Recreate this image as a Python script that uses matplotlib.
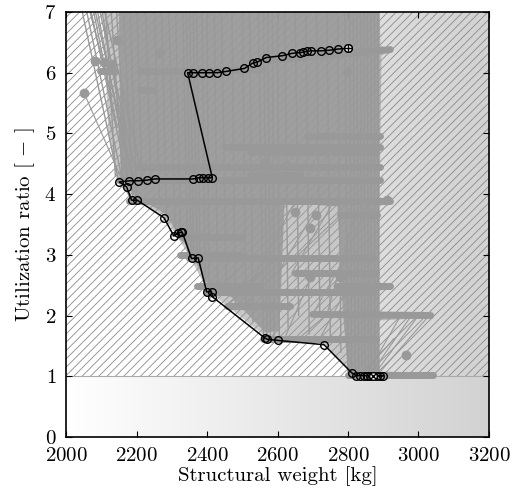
import numpy as np
import matplotlib
matplotlib.use("Agg")
import matplotlib.pyplot as plt
from matplotlib.colors import LinearSegmentedColormap

plt.rcParams['font.family'] = 'cmr10'
plt.rcParams['mathtext.fontset'] = 'cm'
plt.rcParams['axes.formatter.use_mathtext'] = True
plt.rcParams['hatch.linewidth'] = 0.6

# black path (best design history), from start to end
path_x = [2799, 2772, 2747, 2723, 2695, 2683, 2673, 2664, 2642, 2614, 2568, 2541, 2530,
          2506, 2453, 2429, 2406, 2385, 2361, 2345,
          2415, 2404, 2390, 2378, 2361, 2252, 2229, 2203, 2180, 2151,
          2172, 2186, 2202, 2278, 2306, 2319, 2325, 2330, 2356, 2375,
          2399, 2413, 2415, 2564, 2571, 2602, 2732,
          2810, 2823, 2834, 2846, 2853, 2862, 2900, 2891, 2881, 2870]
path_y = [6.40, 6.39, 6.37, 6.36, 6.36, 6.35, 6.34, 6.33, 6.32, 6.28, 6.25, 6.17, 6.16,
          6.07, 6.02, 6.00, 6.00, 6.00, 6.00, 6.00,
          4.27, 4.27, 4.27, 4.27, 4.25, 4.25, 4.23, 4.22, 4.22, 4.20,
          4.12, 3.90, 3.90, 3.61, 3.31, 3.36, 3.37, 3.37, 2.94, 2.95,
          2.39, 2.39, 2.31, 1.63, 1.61, 1.59, 1.52,
          1.06, 1.01, 1.01, 1.01, 1.01, 1.01, 1.01, 1.01, 1.01, 1.01]

# envelope of all explored designs
cloud_x = [2105, 2890, 2892, 2925, 2895, 2890, 2920, 2890, 2890, 2920, 2890, 2890, 3035,
           3030, 2890, 2890, 3045, 3040, 2800, 2805, 2730, 2600, 2560, 2400, 2350,
           2310, 2275, 2185, 2145, 2120]
cloud_y = [7.0, 7.0, 6.45, 6.38, 6.28, 3.95, 3.88, 3.80, 2.55, 2.48, 2.40, 2.06, 2.04,
           1.96, 1.92, 1.08, 1.05, 0.97, 0.97, 1.10, 1.55, 1.62, 1.68, 2.42, 2.98,
           3.35, 3.65, 3.93, 4.20, 5.0]

# densest part of the cloud
core_x = [2150, 2890, 2890, 2800, 2785, 2770, 2620, 2605, 2565, 2470, 2405, 2355, 2315,
          2280, 2195, 2155]
core_y = [7.0, 7.0, 1.05, 1.05, 2.10, 3.80, 3.85, 1.75, 1.72, 2.30, 2.48, 3.02, 3.38,
          3.68, 3.97, 4.28]

# horizontal clusters of evaluated designs
band_x0 = [2330, 2540, 2096, 2210, 2210, 2683, 2450, 2522, 2200, 2522, 2150, 2180, 2777,
           2330, 2350, 2650, 2769, 2400, 2457, 2700, 2560, 2800, 2323, 2371]
band_x1 = [2560, 2920, 2140, 2323, 2247, 2891, 2890, 2880, 2890, 2664, 2891, 2919, 2882,
           2500, 2870, 2880, 2919, 2870, 2635, 3035, 2880, 3040, 2494, 2550]
band_y0 = [6.02, 6.18, 6.02, 6.02, 5.72, 4.95, 4.78, 4.69, 4.45, 4.32, 4.23, 3.88, 3.66,
           3.30, 2.95, 2.70, 2.48, 2.38, 2.15, 2.02, 1.62, 1.02, 3.00, 2.48]
band_y1 = [6.05, 6.38, 6.02, 6.02, 5.72, 4.95, 4.78, 4.69, 4.45, 4.32, 4.23, 3.88, 3.66,
           3.30, 2.95, 2.70, 2.48, 2.38, 2.15, 2.00, 1.62, 1.02, 3.00, 2.48]

# history lines running out of the top of the plot
line_top_x = [2035, 2048, 2060, 2072, 2085, 2098, 2110, 2125, 2140, 2160, 2180, 2200,
              2225, 2250, 2270, 2290, 2310, 2330, 2340, 2350, 2360, 2370, 2385, 2400,
              2420, 2440, 2470, 2500, 2520, 2545, 2560, 2572, 2585, 2600, 2620, 2650,
              2680, 2710, 2740, 2770, 2790, 2805, 2815, 2825, 2835, 2845, 2855, 2865,
              2875, 2885, 2055, 2068, 2080, 2093]
line_bot_x = [2150, 2160, 2175, 2190, 2200, 2215, 2140, 2160, 2175, 2190, 2200, 2215,
              2240, 2265, 2285, 2310, 2325, 2345, 2355, 2362, 2372, 2380, 2395, 2405,
              2430, 2455, 2480, 2510, 2530, 2560, 2570, 2580, 2590, 2605, 2630, 2660,
              2690, 2720, 2750, 2780, 2800, 2810, 2820, 2830, 2840, 2848, 2858, 2866,
              2876, 2886, 2130, 2145, 2165, 2182]
line_bot_y = [4.20, 4.22, 4.22, 4.25, 4.30, 4.35, 4.30, 4.30, 4.20, 3.90, 3.90, 4.20,
              4.20, 3.90, 3.65, 3.35, 3.30, 3.00, 2.95, 2.95, 2.95, 2.95, 2.42, 2.40,
              2.40, 2.40, 2.15, 2.20, 1.90, 1.65, 1.63, 1.63, 1.62, 1.65, 1.80, 2.00,
              1.70, 2.00, 1.60, 1.40, 1.05, 1.02, 1.00, 1.00, 1.00, 1.00, 1.00, 1.00,
              1.00, 1.00, 5.60, 5.10, 4.70, 4.40]

# jumps between clusters (including the fan at the bottom right)
link_x0 = [2850, 2860, 2870, 2880, 2840, 2051, 2420, 2450, 2480, 2500, 2520, 2600, 2640,
           2660, 2700, 2720, 2740, 2760, 2620, 2650]
link_y0 = [1.00, 1.00, 1.00, 1.00, 1.02, 5.67, 2.38, 2.15, 2.38, 2.15, 2.48, 2.70, 2.70,
           1.62, 2.02, 1.62, 2.02, 2.48, 1.62, 2.95]
link_x1 = [2950, 2980, 3000, 3030, 2930, 2180, 2520, 2560, 2600, 2640, 2650, 2700, 2760,
           2740, 2790, 2800, 2820, 2860, 2700, 2780]
link_y1 = [2.00, 2.00, 2.00, 2.00, 1.62, 3.95, 2.95, 2.70, 2.95, 2.95, 3.88, 3.66, 3.88,
           2.02, 2.95, 2.48, 3.66, 3.88, 2.70, 3.66]

# single designs
dot_x = [2144, 2267, 2051, 2082, 2109, 2130, 2964, 2796, 2564, 2624, 2650, 2709, 2910,
         2692, 2777, 2692]
dot_y = [6.54, 6.32, 5.67, 6.20, 6.17, 6.15, 1.35, 6.02, 4.53, 4.48, 3.71, 3.66, 3.90,
         3.44, 2.64, 2.64]

x_feasible = 2890
grey = '#999999'

fig = plt.figure(figsize=(5.13, 4.93), dpi=100)
ax = fig.add_axes([0.1287, 0.1136, 0.8245, 0.8621])
ax.set_xlim(2000, 3200)
ax.set_ylim(0, 7)

# backgrounds
cmap = LinearSegmentedColormap.from_list('bg', ['#ffffff', '#d2d2d2'])
grad = np.linspace(0, 1, 256).reshape(1, -1)
ax.imshow(grad, extent=[2000, 3200, 0, 1], aspect='auto', cmap=cmap, zorder=0)
frac = (x_feasible - 2000) / 1200
ax.imshow(grad[:, int(frac * 255):], extent=[x_feasible, 3200, 1, 7], aspect='auto',
          cmap=cmap, vmin=0, vmax=1, zorder=0)
ax.fill_between([2000, 3200], 1, 7, facecolor='none', edgecolor='#8a8a8a',
                hatch='////', linewidth=0, zorder=1)
ax.axhline(1, color='#aaaaaa', lw=0.8, zorder=1)

# explored designs
ax.fill(cloud_x, cloud_y, color=grey, alpha=0.55, lw=0, zorder=2)
ax.fill(core_x, core_y, color=grey, alpha=0.85, lw=0, zorder=2)
for xt, xb, yb in zip(line_top_x, line_bot_x, line_bot_y):
    ax.plot([xt, xb], [7.3, yb], color=grey, lw=1.0, zorder=2)
for a, b, c, d in zip(link_x0, link_y0, link_x1, link_y1):
    ax.plot([a, c], [b, d], color=grey, lw=0.8, zorder=2)
for a, b, c, d in zip(band_x0, band_y0, band_x1, band_y1):
    ax.plot([a, c], [b, d], color=grey, lw=5, solid_capstyle='round', zorder=3)
ax.plot(dot_x, dot_y, 'o', color=grey, ms=6, zorder=3)

# optimisation path
ax.plot(path_x, path_y, '-o', color='black', lw=1.1, ms=5.5, mfc='none', mew=1, zorder=5)
ax.plot(path_x[0], path_y[0], 'o', mfc='white', mec='black', ms=5.5, mew=1, zorder=6)
ax.plot(path_x[0], path_y[0], '+', color='black', ms=5.5, mew=1, zorder=7)
ax.plot(path_x[-1], path_y[-1], 'o', mfc='white', mec='black', ms=5.5, mew=1, zorder=6)
ax.plot(path_x[-1], path_y[-1], 'x', color='black', ms=4, mew=1, zorder=7)

ax.set_xticks(np.arange(2000, 3201, 200))
ax.set_yticks(np.arange(0, 8, 1))
ax.tick_params(direction='in', top=True, right=True, length=4, width=0.8, labelsize=15)
ax.tick_params(axis='x', pad=7)
ax.tick_params(axis='y', pad=7)
for s in ax.spines.values():
    s.set_linewidth(1.2)
ax.set_xlabel('Structural weight [kg]', fontsize=15, labelpad=1)
ax.set_ylabel(r'Utilization ratio [ $-$ ]', fontsize=15, labelpad=5)

fig.savefig('out.png', dpi=100)
